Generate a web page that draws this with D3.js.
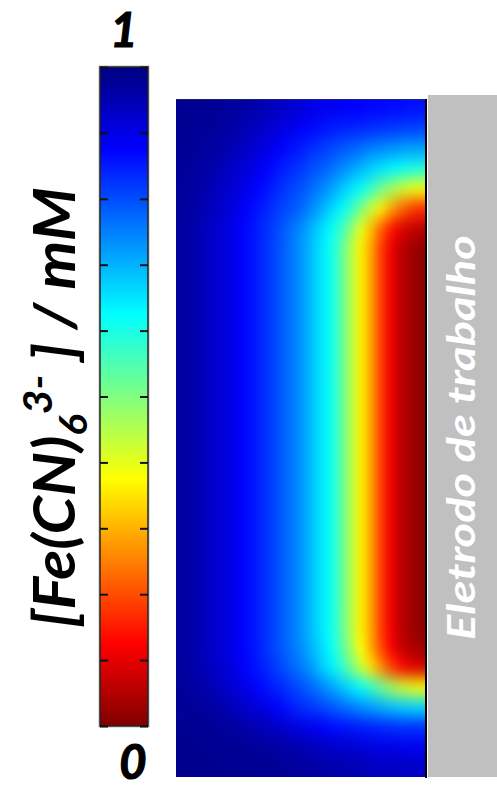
<!DOCTYPE html>
<meta charset="utf-8">
<script src="https://d3js.org/d3.v7.min.js"></script>
<style>
  body { margin: 0; background: #fff; }
  svg { display: block; }
</style>
<div id="chart"></div>
<script>

// colour bar: concentration in mM, ticks every 0.1
var colorTicks = [0, 0.1, 0.2, 0.3, 0.4, 0.5, 0.6, 0.7, 0.8, 0.9, 1];
var colorEndLabels = ["0", "1"];
var electrodeLabel = "Eletrodo de trabalho";

// concentration field.
// each row goes from the bulk side (left) to the electrode (right), 25 columns
var topRows = [
  [0.984,0.982,0.98,0.978,0.975,0.972,0.968,0.96,0.953,0.94,0.93,0.922,0.913,0.90,0.89,0.89,0.885,0.88,0.875,0.87,0.87,0.865,0.865,0.86,0.86],
  [0.982,0.98,0.977,0.974,0.97,0.962,0.955,0.94,0.93,0.92,0.905,0.895,0.88,0.87,0.86,0.85,0.845,0.84,0.835,0.83,0.825,0.82,0.815,0.81,0.81],
  [0.98,0.976,0.972,0.968,0.96,0.95,0.935,0.925,0.91,0.895,0.875,0.86,0.85,0.83,0.82,0.805,0.79,0.78,0.765,0.75,0.74,0.73,0.72,0.716,0.713],
  [0.976,0.972,0.968,0.958,0.95,0.93,0.92,0.905,0.885,0.87,0.85,0.835,0.82,0.80,0.785,0.764,0.743,0.72,0.695,0.67,0.65,0.634,0.618,0.602,0.594],
  [0.974,0.97,0.96,0.95,0.93,0.92,0.905,0.885,0.87,0.85,0.83,0.81,0.795,0.771,0.746,0.719,0.683,0.649,0.62,0.57,0.518,0.467,0.427,0.399,0.385],
  [0.972,0.965,0.955,0.94,0.925,0.91,0.89,0.87,0.85,0.83,0.81,0.795,0.775,0.741,0.708,0.667,0.631,0.578,0.505,0.43,0.36,0.29,0.228,0.186,0.165],
  [0.97,0.96,0.95,0.93,0.915,0.90,0.88,0.86,0.84,0.82,0.795,0.765,0.735,0.70,0.66,0.62,0.57,0.49,0.40,0.31,0.22,0.145,0.095,0.068,0.055]
];
// the middle part of the cell has the same profile all the way down
var midProfile = [0.97,0.96,0.95,0.93,0.915,0.90,0.88,0.86,0.84,0.815,0.79,0.76,0.73,0.69,0.65,0.61,0.54,0.45,0.36,0.285,0.185,0.11,0.06,0.035,0.015];
var midRowCount = 20;
var bottomRows = [
  [0.97,0.96,0.95,0.93,0.915,0.90,0.88,0.86,0.84,0.815,0.79,0.762,0.735,0.70,0.66,0.62,0.55,0.465,0.375,0.29,0.195,0.12,0.07,0.045,0.03],
  [0.971,0.963,0.953,0.936,0.922,0.906,0.886,0.866,0.848,0.828,0.805,0.78,0.755,0.725,0.68,0.64,0.585,0.515,0.43,0.345,0.265,0.19,0.135,0.1,0.087],
  [0.974,0.968,0.96,0.948,0.933,0.92,0.903,0.885,0.868,0.85,0.835,0.816,0.797,0.774,0.748,0.718,0.685,0.652,0.623,0.575,0.522,0.47,0.428,0.398,0.382],
  [0.979,0.975,0.972,0.966,0.957,0.945,0.93,0.92,0.905,0.89,0.87,0.85,0.833,0.822,0.807,0.79,0.773,0.755,0.737,0.719,0.702,0.686,0.674,0.666,0.661],
  [0.983,0.981,0.98,0.977,0.974,0.97,0.963,0.955,0.945,0.932,0.925,0.914,0.90,0.89,0.88,0.87,0.86,0.855,0.85,0.845,0.84,0.835,0.83,0.83,0.83],
  [0.986,0.985,0.984,0.983,0.981,0.98,0.978,0.975,0.972,0.97,0.964,0.958,0.953,0.942,0.934,0.927,0.923,0.918,0.912,0.905,0.90,0.896,0.893,0.891,0.89],
  [0.987,0.986,0.986,0.985,0.984,0.983,0.982,0.981,0.98,0.978,0.976,0.973,0.971,0.969,0.965,0.96,0.956,0.953,0.95,0.94,0.937,0.935,0.933,0.932,0.93]
];

var grid = topRows.concat(d3.range(midRowCount).map(function() { return midProfile; }), bottomRows);
var nRows = grid.length, nCols = grid[0].length;

var width = 497, height = 790;
var font = "Lato, 'Open Sans', sans-serif";

var svg = d3.select("#chart").append("svg")
    .attr("width", width)
    .attr("height", height);

// jet colour map, 1 mM = dark blue, 0 = dark red
var color = d3.scaleLinear()
    .domain([0, 0.125, 0.375, 0.625, 0.875, 1])
    .range(["#800000", "#ff0000", "#ffff00", "#00ffff", "#0000ff", "#000080"])
    .interpolate(d3.interpolateRgb);

var defs = svg.append("defs");

// ---------- colour bar ----------
var bar = {x: 100, w: 48, top: 67, bottom: 726};
var cy = d3.scaleLinear().domain([0, 1]).range([bar.bottom, bar.top]);

var grad = defs.append("linearGradient")
    .attr("id", "jet")
    .attr("x1", 0).attr("y1", 1).attr("x2", 0).attr("y2", 0);
grad.selectAll("stop")
    .data(color.domain())
    .enter().append("stop")
      .attr("offset", function(d) { return d; })
      .attr("stop-color", function(d) { return color(d); });

svg.append("rect")
    .attr("x", bar.x - 1).attr("y", cy(1) - 1)
    .attr("width", bar.w + 2).attr("height", cy(0) - cy(1) + 2)
    .style("fill", "none").style("stroke", "#bbb").style("stroke-width", 1);
svg.append("rect")
    .attr("x", bar.x).attr("y", cy(1))
    .attr("width", bar.w).attr("height", cy(0) - cy(1))
    .style("fill", "url(#jet)")
    .style("stroke", "#222").style("stroke-width", 1.5);

// tick marks inside the bar, on both sides
var tickL = svg.append("g")
    .attr("transform", "translate(" + bar.x + ",0)")
    .call(d3.axisRight(cy).tickValues(colorTicks).tickSize(8).tickFormat(""));
var tickR = svg.append("g")
    .attr("transform", "translate(" + (bar.x + bar.w) + ",0)")
    .call(d3.axisLeft(cy).tickValues(colorTicks).tickSize(8).tickFormat(""));
[tickL, tickR].forEach(function(g) {
  g.select(".domain").remove();
  g.selectAll("line").style("stroke", "#111").style("stroke-width", 2);
});

// end labels
svg.append("text")
    .attr("x", bar.x + bar.w / 2).attr("y", cy(1) - 20)
    .attr("text-anchor", "middle")
    .style("font-family", font).style("font-weight", "bold").style("font-style", "italic")
    .style("font-size", "47px")
    .style("stroke", "#000").style("stroke-width", 1.2)
    .text(colorEndLabels[1]);
svg.append("text")
    .attr("x", bar.x + bar.w / 2 + 9).attr("y", cy(0) + 53)
    .attr("text-anchor", "middle")
    .style("font-family", font).style("font-weight", "bold").style("font-style", "italic")
    .style("font-size", "47px")
    .style("stroke", "#000").style("stroke-width", 1.2)
    .text(colorEndLabels[0]);

// rotated quantity label
var lab = svg.append("g").attr("transform", "translate(75,628) rotate(-90)");
var labText = lab.append("text")
    .style("font-family", font).style("font-weight", "bold").style("font-style", "italic")
    .style("font-size", "58px");
labText.append("tspan").text("[Fe(CN)");
labText.append("tspan").attr("dy", 12).style("font-size", "38px").text("6");
labText.append("tspan").attr("dy", -35).style("font-size", "40px").text("3-");
labText.append("tspan").attr("dy", 23).text(" ] / mM");
var labLen = labText.node().getComputedTextLength();
labText.attr("transform", "scale(" + (441 / labLen) + ",1)");

// ---------- concentration field ----------
var field = {x0: 176, x1: 426, y0: 99, y1: 777};
var x = d3.scaleBand().domain(d3.range(nCols)).range([field.x0, field.x1]);
var y = d3.scaleBand().domain(d3.range(nRows)).range([field.y0, field.y1]);
var pad = 24;

defs.append("clipPath").attr("id", "fieldClip")
  .append("rect")
    .attr("x", field.x0).attr("y", field.y0)
    .attr("width", field.x1 - field.x0).attr("height", field.y1 - field.y0);

var blur = defs.append("filter").attr("id", "smooth")
    .attr("filterUnits", "userSpaceOnUse")
    .attr("x", field.x0 - pad).attr("y", field.y0 - pad)
    .attr("width", field.x1 - field.x0 + 2 * pad).attr("height", field.y1 - field.y0 + 2 * pad)
    .attr("color-interpolation-filters", "sRGB");
blur.append("feGaussianBlur").attr("stdDeviation", "4.5 8");

var cells = [];
grid.forEach(function(row, r) {
  row.forEach(function(v, c) { cells.push({r: r, c: c, v: v}); });
});

svg.append("g").attr("clip-path", "url(#fieldClip)")
  .append("g").attr("filter", "url(#smooth)")
  .selectAll("rect")
  .data(cells)
  .enter().append("rect")
    .attr("x", function(d) { return x(d.c) - (d.c === 0 ? pad : 0); })
    .attr("y", function(d) { return y(d.r) - (d.r === 0 ? pad : 0); })
    .attr("width", function(d) { return x.bandwidth() + 0.6 + (d.c === 0 || d.c === nCols - 1 ? pad : 0); })
    .attr("height", function(d) { return y.bandwidth() + 0.6 + (d.r === 0 || d.r === nRows - 1 ? pad : 0); })
    .style("fill", function(d) { return color(d.v); });

// frame lines of the field
svg.append("line")
    .attr("x1", field.x0).attr("x2", field.x1).attr("y1", field.y0 + 0.5).attr("y2", field.y0 + 0.5)
    .style("stroke", "#334").style("stroke-width", 1).style("opacity", 0.6);
svg.append("line")
    .attr("x1", field.x1).attr("x2", field.x1).attr("y1", field.y0).attr("y2", field.y1 + 1)
    .style("stroke", "#000").style("stroke-width", 2);

// ---------- working electrode ----------
svg.append("rect")
    .attr("x", 428).attr("y", 95)
    .attr("width", width - 428).attr("height", field.y1 - 95)
    .style("fill", "#c0c0c0");

svg.append("text")
    .attr("transform", "translate(475,640) rotate(-90)")
    .attr("textLength", 405).attr("lengthAdjust", "spacingAndGlyphs")
    .style("font-family", font).style("font-weight", "bold").style("font-style", "italic")
    .style("font-size", "39px")
    .style("fill", "#fff")
    .text(electrodeLabel);

</script>
